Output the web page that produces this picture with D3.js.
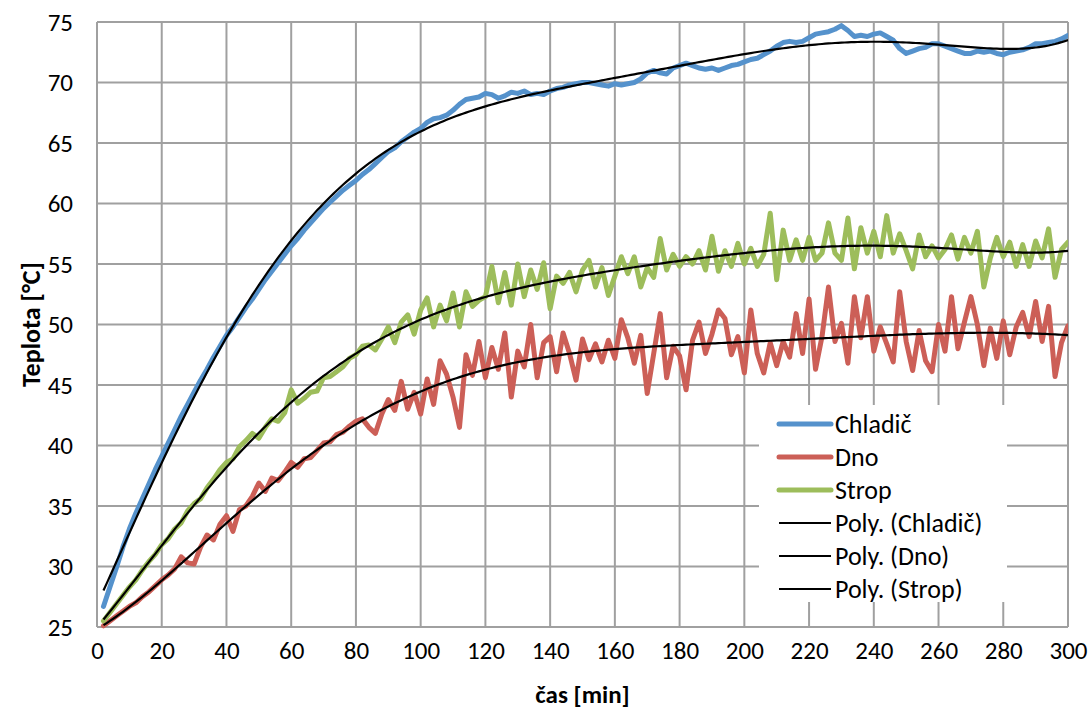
<!DOCTYPE html>
<html>
<head>
<meta charset="utf-8">
<script src="https://cdn.jsdelivr.net/npm/d3@7"></script>
<style>
body { margin: 0; background: #fff; }
svg text { font-family: Carlito, Lato, 'Liberation Sans', sans-serif; fill: #000; }
</style>
</head>
<body>
<div id="chart"></div>
<script>
// time axis, one reading every 2 minutes
const minutes = d3.range(2, 302, 2)

const chladic = [
    26.7, 28.3, 29.9, 31.6, 33.1, 34.4, 35.6, 36.8, 38.0, 39.1,
    40.2, 41.3, 42.4, 43.4, 44.4, 45.4, 46.3, 47.3, 48.2, 49.1,
    49.8, 50.6, 51.4, 52.1, 52.9, 53.7, 54.4, 55.1, 55.8, 56.5,
    57.1, 57.8, 58.4, 59.0, 59.6, 60.1, 60.6, 61.1, 61.5, 61.9,
    62.4, 62.8, 63.3, 63.8, 64.3, 64.6, 65.1, 65.5, 65.9, 66.2,
    66.7, 67.0, 67.1, 67.3, 67.7, 68.2, 68.6, 68.7, 68.8, 69.1,
    69.0, 68.7, 68.9, 69.2, 69.1, 69.3, 69.0, 69.1, 69.0, 69.3,
    69.5, 69.6, 69.8, 69.9, 70.0, 70.0, 69.9, 69.8, 69.7, 69.9,
    69.8, 69.9, 70.0, 70.3, 70.8, 71.0, 70.8, 70.7, 71.2, 71.4,
    71.6, 71.4, 71.2, 71.1, 71.2, 71.0, 71.2, 71.4, 71.5, 71.7,
    71.9, 72.0, 72.3, 72.6, 73.0, 73.3, 73.4, 73.3, 73.4, 73.7,
    74.0, 74.1, 74.2, 74.4, 74.7, 74.3, 73.8, 73.9, 73.8, 74.0,
    74.1, 73.8, 73.5, 72.8, 72.4, 72.6, 72.8, 72.9, 73.2, 73.2,
    73.0, 72.8, 72.6, 72.4, 72.4, 72.6, 72.5, 72.6, 72.4, 72.3,
    72.5, 72.6, 72.7, 72.9, 73.2, 73.2, 73.3, 73.4, 73.6, 73.9
]

const dno = [
    25.1, 25.5, 25.9, 26.3, 26.7, 27.0, 27.5, 27.9, 28.4, 28.9,
    29.3, 29.8, 30.8, 30.3, 30.2, 31.6, 32.6, 32.2, 33.5, 34.2,
    32.9, 34.7, 35.0, 35.8, 36.9, 36.2, 37.3, 37.1, 37.8, 38.6,
    38.2, 38.9, 39.0, 39.6, 40.2, 40.3, 40.9, 41.1, 41.6, 42.0,
    42.2, 41.5, 41.0, 42.6, 43.8, 42.9, 45.3, 43.0, 44.4, 42.6,
    45.5, 43.4, 47.0, 45.9, 44.0, 41.5, 47.5, 45.8, 48.6, 45.6,
    48.1, 46.3, 49.3, 44.0, 47.8, 46.5, 50.0, 45.6, 48.5, 49.0,
    46.1, 49.3, 47.6, 45.4, 48.8, 47.1, 48.4, 46.9, 48.7, 47.2,
    50.4, 48.9, 46.8, 49.1, 44.3, 47.6, 50.9, 45.6, 48.2, 47.4,
    44.6, 48.7, 50.2, 47.6, 49.2, 51.2, 50.5, 47.5, 49.0, 46.0,
    51.2, 47.6, 46.0, 48.5, 46.6, 48.6, 47.3, 50.9, 47.6, 52.1,
    46.3, 49.0, 53.1, 48.6, 50.1, 46.8, 52.3, 48.9, 52.3, 47.8,
    49.8, 48.4, 46.9, 52.7, 48.6, 46.2, 49.5, 47.0, 46.1, 50.0,
    47.8, 52.3, 48.0, 50.2, 52.3, 50.0, 46.6, 49.7, 47.2, 50.3,
    47.5, 49.8, 51.0, 49.0, 51.9, 48.6, 51.5, 45.7, 48.5, 49.9
]

const strop = [
    25.5, 26.2, 26.9, 27.6, 28.3, 28.9, 29.7, 30.4, 31.0, 31.8,
    32.3, 33.1, 33.6, 34.6, 35.2, 35.6, 36.5, 37.2, 38.0, 38.6,
    38.9, 39.9, 40.4, 41.0, 40.6, 41.5, 42.2, 42.0, 42.7, 44.6,
    43.5, 43.9, 44.4, 44.5, 45.6, 45.7, 46.1, 46.5, 47.2, 47.5,
    48.2, 48.3, 47.9, 48.8, 49.8, 48.5, 50.2, 50.8, 49.2, 51.2,
    52.2, 49.8, 51.6, 50.3, 52.6, 49.8, 52.7, 51.5, 52.0, 52.3,
    54.8, 51.8, 54.3, 51.6, 55.0, 52.3, 54.5, 52.9, 55.1, 51.3,
    54.0, 53.4, 54.3, 52.7, 54.5, 55.3, 53.1, 54.7, 52.4, 54.0,
    55.6, 54.2, 55.6, 53.1, 54.7, 53.9, 57.1, 54.5, 55.8, 54.8,
    55.6, 55.0, 56.1, 54.5, 57.3, 54.4, 56.1, 54.8, 56.7, 55.0,
    56.3, 54.8, 55.8, 59.2, 53.7, 57.8, 55.3, 57.0, 55.3, 57.2,
    55.3, 55.9, 58.4, 55.9, 55.3, 58.8, 54.6, 58.0, 55.9, 57.7,
    55.6, 59.0, 55.9, 57.5, 56.1, 54.6, 57.4, 55.6, 56.5, 55.5,
    56.2, 57.4, 55.4, 57.2, 55.9, 57.7, 53.1, 55.5, 57.2, 55.6,
    56.8, 54.8, 56.6, 54.8, 56.9, 55.5, 57.9, 53.9, 56.2, 56.8
]

const seriesNames = ['Chladič', 'Dno', 'Strop']
const seriesColors = ['#5592cc', '#cc5f57', '#9dbd5b']
const xTicks = d3.range(0, 301, 20)
const yTicks = d3.range(25, 76, 5)

// least squares polynomial (Excel "Poly." trendline, order 6)
function polyfit(xs, ys, order) {
    let n = order + 1
    let u = xs.map(x => (x - 150) / 150)
    let A = []
    for (let i = 0; i < n; i++) {
        A.push(new Array(n + 1).fill(0))
    }
    u.forEach((x, k) => {
        for (let i = 0; i < n; i++) {
            for (let j = 0; j < n; j++) A[i][j] += Math.pow(x, i + j)
            A[i][n] += ys[k] * Math.pow(x, i)
        }
    })
    for (let c = 0; c < n; c++) {
        let p = c
        for (let r = c + 1; r < n; r++) if (Math.abs(A[r][c]) > Math.abs(A[p][c])) p = r
        let tmp = A[c]; A[c] = A[p]; A[p] = tmp
        for (let r = 0; r < n; r++) {
            if (r == c) continue
            let f = A[r][c] / A[c][c]
            for (let j = c; j <= n; j++) A[r][j] -= f * A[c][j]
        }
    }
    let coef = A.map((row, i) => row[n] / row[i])
    return x => {
        let t = (x - 150) / 150
        return coef.reduce((acc, c, i) => acc + c * Math.pow(t, i), 0)
    }
}

const W = 1090, H = 713
const margin = { left: 97, top: 22, right: 22, bottom: 86 }

let svg = d3.select('#chart').append('svg')
    .attr('width', W)
    .attr('height', H)

let x = d3.scaleLinear()
    .domain([0, 300])
    .range([margin.left, W - margin.right])
let y = d3.scaleLinear()
    .domain([25, 75])
    .range([H - margin.bottom, margin.top])

let gridColor = '#a0a0a0'

// grid
svg.append('g')
    .selectAll('line')
    .data(yTicks)
    .enter()
    .append('line')
        .attr('x1', x(0))
        .attr('x2', x(300))
        .attr('y1', d => y(d))
        .attr('y2', d => y(d))
        .attr('stroke', gridColor)
        .attr('stroke-width', 2)
svg.append('g')
    .selectAll('line')
    .data(xTicks)
    .enter()
    .append('line')
        .attr('x1', d => x(d))
        .attr('x2', d => x(d))
        .attr('y1', y(25))
        .attr('y2', y(75))
        .attr('stroke', gridColor)
        .attr('stroke-width', 2)

// axes (labels only, Excel style)
let xAxis = svg.append('g')
    .attr('transform', `translate(0,${y(25)})`)
    .call(d3.axisBottom(x).tickValues(xTicks).tickSize(0).tickPadding(14))
let yAxis = svg.append('g')
    .attr('transform', `translate(${x(0)},0)`)
    .call(d3.axisLeft(y).tickValues(yTicks).tickSize(0).tickPadding(24))
xAxis.select('.domain').remove()
yAxis.select('.domain').remove()
svg.selectAll('.tick text')
    .attr('font-size', 25)
    .attr('font-family', null)

svg.append('text')
    .attr('x', (x(0) + x(300)) / 2)
    .attr('y', 703)
    .attr('text-anchor', 'middle')
    .attr('font-size', 25)
    .attr('font-weight', 'bold')
    .text('čas [min]')
svg.append('text')
    .attr('transform', `translate(40,${(y(25) + y(75)) / 2}) rotate(-90)`)
    .attr('text-anchor', 'middle')
    .attr('font-size', 26)
    .attr('font-weight', 'bold')
    .text('Teplota [°C]')

svg.append('clipPath')
    .attr('id', 'plot-clip')
    .append('rect')
        .attr('x', x(0))
        .attr('y', y(75) - 3)
        .attr('width', x(300) - x(0))
        .attr('height', y(25) - y(75) + 6)

let seriesValues = [chladic, dno, strop]
let line = d3.line()
    .x(d => x(d[0]))
    .y(d => y(d[1]))

let plot = svg.append('g')
    .attr('clip-path', 'url(#plot-clip)')

plot.selectAll('path.series')
    .data(seriesValues)
    .enter()
    .append('path')
        .attr('class', 'series')
        .attr('fill', 'none')
        .attr('stroke', (d, i) => seriesColors[i])
        .attr('stroke-width', 5)
        .attr('stroke-linejoin', 'round')
        .attr('stroke-linecap', 'round')
        .attr('d', vals => line(vals.map((v, i) => [minutes[i], v])))

let fine = d3.range(minutes[0], minutes[minutes.length - 1] + 0.5, 1)
plot.selectAll('path.trend')
    .data(seriesValues)
    .enter()
    .append('path')
        .attr('class', 'trend')
        .attr('fill', 'none')
        .attr('stroke', '#000')
        .attr('stroke-width', 2.2)
        .attr('d', vals => {
            let f = polyfit(minutes, vals, 6)
            return line(fine.map(t => [t, f(t)]))
        })

// legend
let legendItems = seriesNames.map((name, i) => ({ name, color: seriesColors[i], w: 5 }))
    .concat(seriesNames.map(name => ({ name: `Poly. (${name})`, color: '#000', w: 2.2 })))

let legend = svg.append('g')
legend.append('rect')
    .attr('x', 759)
    .attr('y', 405)
    .attr('width', 248)
    .attr('height', 197)
    .attr('fill', '#fff')

let rowY = i => 424 + i * 33
legend.selectAll('line')
    .data(legendItems)
    .enter()
    .append('line')
        .attr('x1', 779)
        .attr('x2', 831)
        .attr('y1', (d, i) => rowY(i))
        .attr('y2', (d, i) => rowY(i))
        .attr('stroke', d => d.color)
        .attr('stroke-width', d => d.w)
        .attr('stroke-linecap', d => d.w > 3 ? 'round' : 'butt')
legend.selectAll('text')
    .data(legendItems)
    .enter()
    .append('text')
        .attr('x', 835)
        .attr('y', (d, i) => rowY(i))
        .attr('dy', '0.35em')
        .attr('font-size', 26)
        .text(d => d.name)
</script>
</body>
</html>
